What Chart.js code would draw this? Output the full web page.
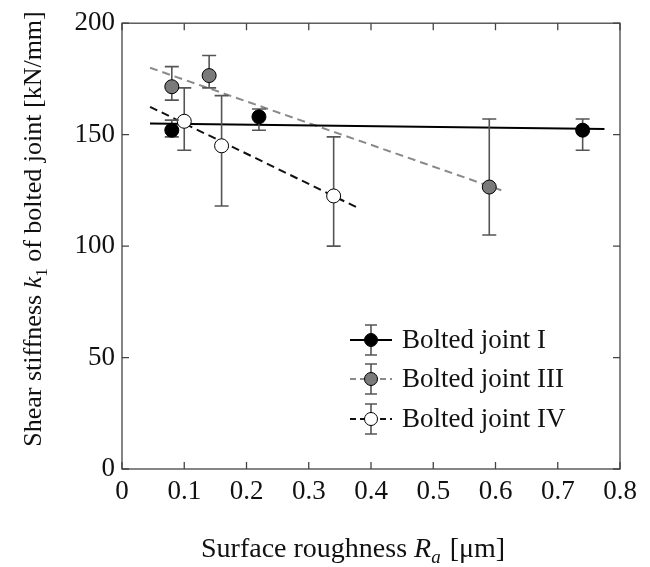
<!DOCTYPE html>
<html>
<head>
<meta charset="utf-8">
<script src="https://cdn.jsdelivr.net/npm/chart.js@4/dist/chart.umd.min.js"></script>
<style>
html,body{margin:0;padding:0;background:#fff;}
#wrap{width:650px;height:567px;position:relative;}
</style>
</head>
<body>
<div id="wrap"><canvas id="c" width="650" height="567"></canvas></div>
<script>
// ---- data ----
const xTicks = [0, 0.1, 0.2, 0.3, 0.4, 0.5, 0.6, 0.7, 0.8];
const yTicks = [0, 50, 100, 150, 200];

const seriesNames = ['Bolted joint I', 'Bolted joint III', 'Bolted joint IV'];

const roughnessI = [0.08, 0.22, 0.74];
const stiffnessI = [152, 158, 152];
const upperI = [156.5, 161.5, 157];
const lowerI = [149, 152, 143];

const roughnessIII = [0.08, 0.14, 0.59];
const stiffnessIII = [171.5, 176.5, 126.5];
const upperIII = [180.5, 185.5, 157];
const lowerIII = [165.5, 171, 105];

const roughnessIV = [0.10, 0.16, 0.34];
const stiffnessIV = [156, 145, 122.5];
const upperIV = [171, 167.5, 149];
const lowerIV = [143, 118, 100];

// fitted trend lines (end points)
const fitXI = [0.045, 0.775];
const fitYI = [155, 152.5];
const fitXIII = [0.045, 0.615];
const fitYIII = [180, 124.5];
const fitXIV = [0.045, 0.38];
const fitYIV = [162.5, 117];

// ---- styles ----
const FONT = '"Liberation Serif", "Times New Roman", serif';
const markerFill = ['#000000', '#7a7a7a', '#ffffff'];
const lineColor = ['#000000', '#8a8a8a', '#111111'];
const lineDash = [[], [8, 5], [8, 5]];
const errColor = '#555555';

const pts = (xs, ys) => xs.map((x, i) => ({x: x, y: ys[i]}));

const pointSets = [
  {x: roughnessI, y: stiffnessI, up: upperI, lo: lowerI},
  {x: roughnessIII, y: stiffnessIII, up: upperIII, lo: lowerIII},
  {x: roughnessIV, y: stiffnessIV, up: upperIV, lo: lowerIV}
];
const fitSets = [[fitXI, fitYI], [fitXIII, fitYIII], [fitXIV, fitYIV]];

const datasets = [];
fitSets.forEach((f, i) => {
  datasets.push({
    type: 'line', label: seriesNames[i] + ' fit', data: pts(f[0], f[1]),
    borderColor: lineColor[i], borderWidth: 2, borderDash: lineDash[i],
    pointRadius: 0, fill: false, tension: 0, order: 10
  });
});
pointSets.forEach((s, i) => {
  datasets.push({
    type: 'scatter', label: seriesNames[i], data: pts(s.x, s.y),
    backgroundColor: markerFill[i], borderColor: '#000', borderWidth: 1,
    pointRadius: 7, pointHoverRadius: 7, order: 1, errIndex: i
  });
});

const AREA = {left: 122, right: 620, top: 22, bottom: 469};

const errorBars = {
  id: 'errorBars',
  beforeDatasetDraw(chart, args) {
    const ds = chart.data.datasets[args.index];
    if (ds.errIndex === undefined) return;
    const s = pointSets[ds.errIndex];
    const xs = chart.scales.x, ys = chart.scales.y, ctx = chart.ctx;
    ctx.save();
    ctx.strokeStyle = errColor; ctx.lineWidth = 1.6; ctx.setLineDash([]);
    s.x.forEach((xv, k) => {
      const px = xs.getPixelForValue(xv);
      const pu = ys.getPixelForValue(s.up[k]);
      const pl = ys.getPixelForValue(s.lo[k]);
      ctx.beginPath();
      ctx.moveTo(px, pu); ctx.lineTo(px, pl);
      ctx.moveTo(px - 7, pu); ctx.lineTo(px + 7, pu);
      ctx.moveTo(px - 7, pl); ctx.lineTo(px + 7, pl);
      ctx.stroke();
    });
    ctx.restore();
  }
};

const frame = {
  id: 'frame',
  afterDraw(chart) {
    const ctx = chart.ctx, a = chart.chartArea;
    const xs = chart.scales.x, ys = chart.scales.y;
    ctx.save();
    ctx.strokeStyle = '#444'; ctx.lineWidth = 1.3; ctx.setLineDash([]);
    ctx.strokeRect(a.left, a.top, a.right - a.left, a.bottom - a.top);
    ctx.beginPath();
    xTicks.forEach(v => {
      const p = xs.getPixelForValue(v);
      ctx.moveTo(p, a.bottom); ctx.lineTo(p, a.bottom - 7);
      ctx.moveTo(p, a.top); ctx.lineTo(p, a.top + 7);
    });
    yTicks.forEach(v => {
      const p = ys.getPixelForValue(v);
      ctx.moveTo(a.left, p); ctx.lineTo(a.left + 7, p);
      ctx.moveTo(a.right, p); ctx.lineTo(a.right - 7, p);
    });
    ctx.stroke();

    // axis titles with italic symbols
    ctx.fillStyle = '#111';
    ctx.textBaseline = 'alphabetic';
    const drawRuns = (runs, x0, y0) => {
      let x = x0;
      runs.forEach(r => {
        ctx.font = r.f;
        ctx.fillText(r.t, x, y0 + (r.dy || 0));
        x += ctx.measureText(r.t).width + (r.gap || 0);
      });
    };
    const measureRuns = runs => runs.reduce((w, r) => { ctx.font = r.f; return w + ctx.measureText(r.t).width + (r.gap || 0); }, 0);
    const NX = '28px ' + FONT, IX = 'italic 28px ' + FONT, SIX = 'italic 19px ' + FONT;
    const xTitle = [{t: 'Surface roughness ', f: NX}, {t: 'R', f: IX}, {t: 'a', f: SIX, dy: 6, gap: 2}, {t: ' [\u03bcm]', f: NX}];
    drawRuns(xTitle, 201, 557);

    const N = '26px ' + FONT, I = 'italic 26px ' + FONT, S = '17px ' + FONT;
    const yTitle = [{t: 'Shear stiffness ', f: N}, {t: 'k', f: I}, {t: '1', f: S, dy: 6}, {t: ' of bolted joint [kN/mm]', f: N}];
    const wy = measureRuns(yTitle);
    ctx.save();
    ctx.translate(41, 229);
    ctx.rotate(-Math.PI / 2);
    drawRuns(yTitle, -wy / 2, 0);
    ctx.restore();

    // legend
    const rows = [340, 379, 419];
    const cx = 371;
    rows.forEach((ry, i) => {
      ctx.save();
      ctx.strokeStyle = lineColor[i]; ctx.lineWidth = 2; ctx.setLineDash(lineDash[i].length ? [6, 4] : []);
      ctx.beginPath(); ctx.moveTo(350, ry); ctx.lineTo(392, ry); ctx.stroke();
      ctx.setLineDash([]);
      ctx.strokeStyle = errColor; ctx.lineWidth = 1.6;
      ctx.beginPath();
      ctx.moveTo(cx, ry - 15); ctx.lineTo(cx, ry + 15);
      ctx.moveTo(cx - 6, ry - 15); ctx.lineTo(cx + 6, ry - 15);
      ctx.moveTo(cx - 6, ry + 15); ctx.lineTo(cx + 6, ry + 15);
      ctx.stroke();
      ctx.beginPath(); ctx.arc(cx, ry, 6.5, 0, Math.PI * 2);
      ctx.fillStyle = markerFill[i]; ctx.fill();
      ctx.strokeStyle = '#000'; ctx.lineWidth = 1; ctx.stroke();
      ctx.restore();
      ctx.font = '27px ' + FONT; ctx.fillStyle = '#111';
      ctx.textBaseline = 'middle';
      ctx.fillText(seriesNames[i], 402, ry + 1);
    });
    ctx.restore();
  }
};

new Chart(document.getElementById('c'), {
  type: 'scatter',
  data: {datasets: datasets},
  options: {
    responsive: false,
    animation: false,
    devicePixelRatio: 1,
    layout: {padding: {top: AREA.top, right: 650 - AREA.right, left: 0, bottom: 0}},
    plugins: {legend: {display: false}, tooltip: {enabled: false}},
    scales: {
      x: {
        type: 'linear', min: 0, max: 0.8,
        afterBuildTicks: sc => { sc.ticks = xTicks.map(v => ({value: v})); },
        afterFit: sc => { sc.height = 567 - AREA.bottom; },
        grid: {display: false, drawTicks: false},
        border: {display: false},
        ticks: {font: {family: FONT, size: 27}, color: '#111', padding: 7,
                callback: v => String(v), maxRotation: 0}
      },
      y: {
        type: 'linear', min: 0, max: 200,
        afterBuildTicks: sc => { sc.ticks = yTicks.map(v => ({value: v})); },
        afterFit: sc => { sc.width = AREA.left; },
        grid: {display: false, drawTicks: false},
        border: {display: false},
        ticks: {font: {family: FONT, size: 27}, color: '#111', padding: 7}
      }
    }
  },
  plugins: [errorBars, frame]
});
</script>
</body>
</html>
